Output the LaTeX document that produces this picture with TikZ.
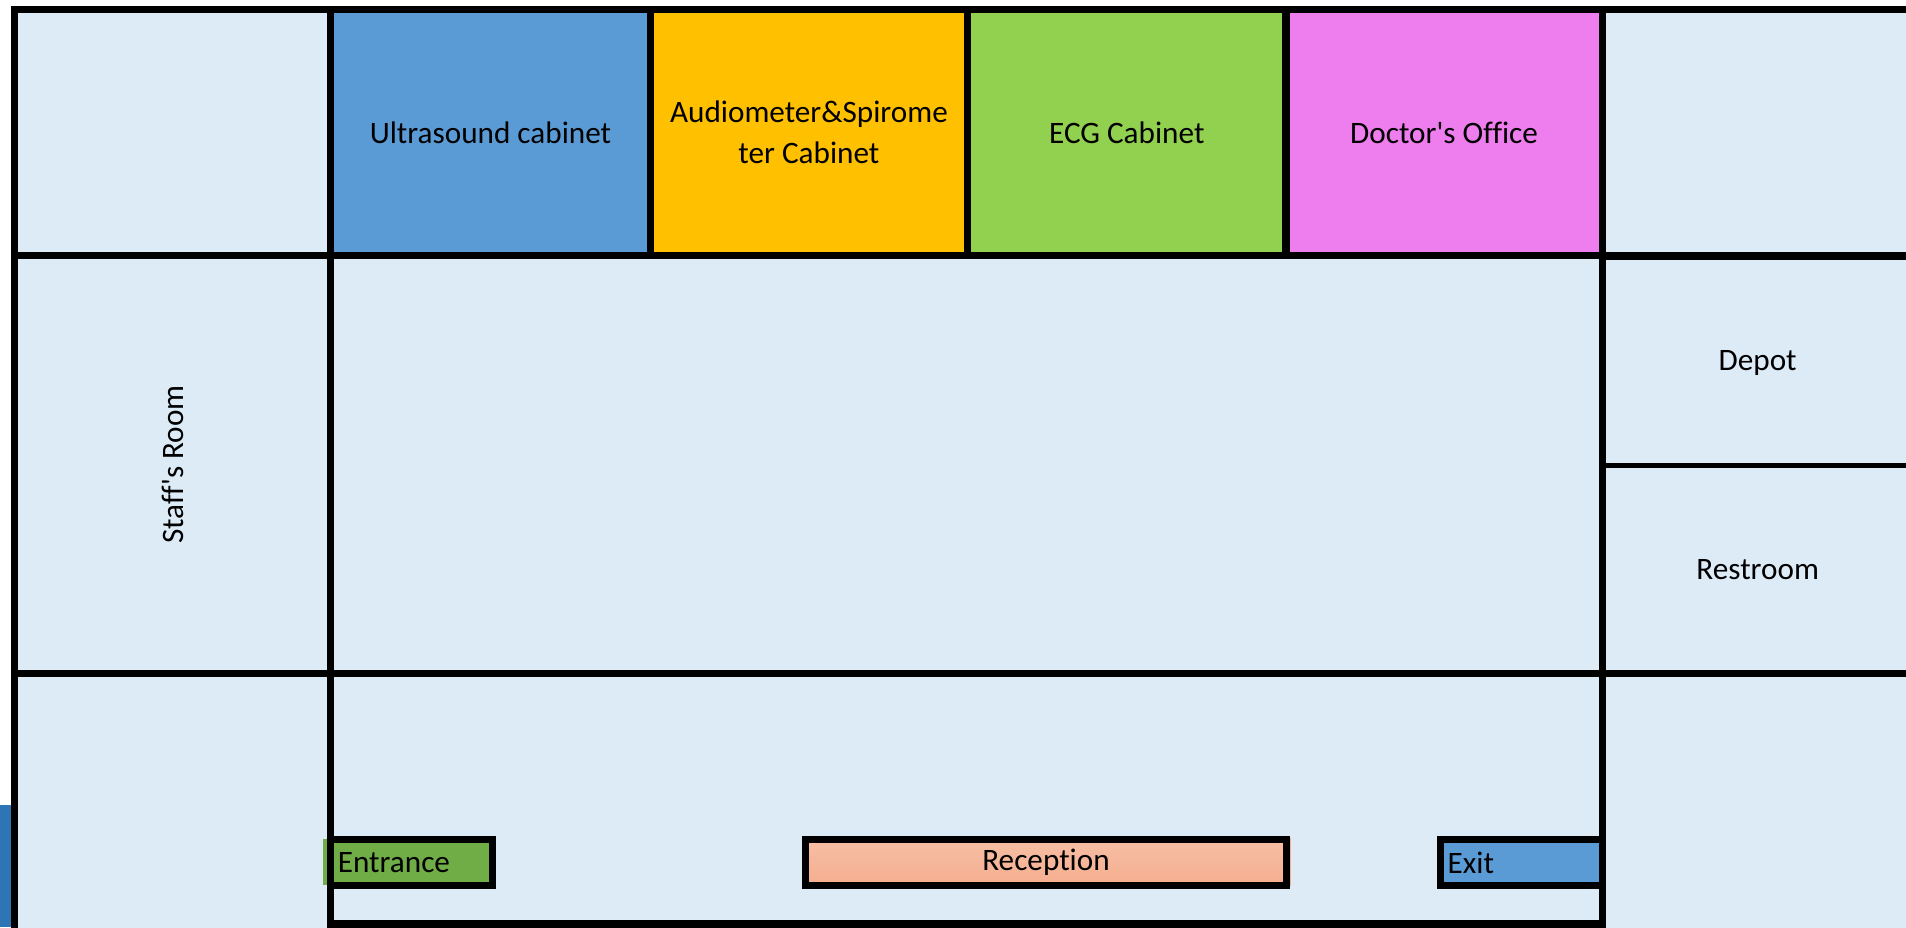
\documentclass[tikz,border=0pt]{standalone}
\usepackage{fontspec}
\setmainfont{Carlito}[Ligatures={NoCommon}]
\definecolor{roombg}{HTML}{DDEBF7}
\definecolor{usblue}{HTML}{5B9BD5}
\definecolor{audyellow}{HTML}{FFC000}
\definecolor{ecggreen}{HTML}{92D050}
\definecolor{docpink}{HTML}{EE7DEE}
\definecolor{entgreen}{HTML}{70AD47}
\definecolor{recsalmon}{HTML}{F5AE8E}
\definecolor{stubblue}{HTML}{2E75B6}
\begin{document}
\begin{tikzpicture}[x=0.01cm, y=-0.01cm,
  room/.style={rectangle, draw, line width=1.7pt, inner sep=0, fill=roombg, font=\fontsize{7.3}{9.6}\selectfont},
  desk/.style={rectangle, draw, line width=1.6pt, inner sep=0, minimum height=0.38cm, font=\fontsize{7.3}{9.6}\selectfont}]
\useasboundingbox (0,0) rectangle (1568,763);
\clip (0,0) rectangle (1568,763);
\fill[stubblue] (0,662) rectangle (10,763);
% right column
\node[room, line width=1.1pt, minimum width=2.56cm, minimum height=1.73cm] (depot) at (1446,298.5){Depot};
\node[room, line width=1.1pt, minimum width=2.56cm, minimum height=1.71cm] (restroom) at (1446,468.5){Restroom};
\node[room, minimum width=2.56cm, minimum height=2.02cm] (rtop) at (1446,109){};
\node[room, minimum width=2.56cm, minimum height=2.16cm] (rbottom) at (1446,662){};
% top row
\node[room, minimum width=2.6cm, minimum height=2.02cm] (ltop) at (142,109){};
\node[room, fill=usblue, minimum width=2.63cm, minimum height=2.02cm] (ultrasound) at (403.5,109){Ultrasound cabinet};
\node[room, fill=audyellow, minimum width=2.61cm, minimum height=2.02cm, align=center] (audio) at (665.5,109){Audiometer\&Spirome\\ter Cabinet};
\node[room, fill=ecggreen, minimum width=2.62cm, minimum height=2.02cm] (ecg) at (927,109){ECG Cabinet};
\node[room, fill=docpink, minimum width=2.6cm, minimum height=2.02cm] (doctor) at (1188,109){Doctor\textquotesingle s Office};
% middle row
\node[room, rotate=90, minimum width=3.44cm, minimum height=2.6cm] (staff) at (142,382){Staff\textquotesingle s Room};
\node[room, minimum width=10.46cm, minimum height=3.44cm] (hall) at (795,382){};
% bottom row
\node[room, minimum width=2.6cm, minimum height=2.16cm] (lbottom) at (142,662){};
\node[room, minimum width=10.46cm, minimum height=2.06cm] (lobby) at (795,657){};
% desks
\fill[entgreen] (266,690) rectangle (272,728);
\node[desk, fill=entgreen, inner xsep=0.06cm, text width=1.21cm, align=left] (entrance) at (338.5,709.5){Entrance};
\fill[recsalmon] (1056,689) rectangle (1062,729);
\node[desk, top color=recsalmon!80!white, bottom color=recsalmon, minimum width=3.95cm] (reception) at (860.5,709.5){Reception};
\node[desk, fill=usblue, inner xsep=0.06cm, text width=1.21cm, align=left] (exit) at (1251.5,709.5){Exit};
\end{tikzpicture}
\end{document}
